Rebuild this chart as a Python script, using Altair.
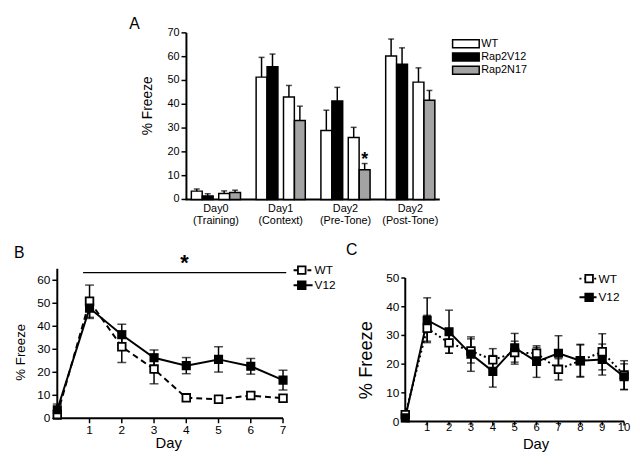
import altair as alt
import pandas as pd

FONT = "Liberation Sans"

# ---------------- Panel A data ----------------
a_categories = ["Day0 (Training)", "Day1 (Context)", "Day2 (Pre-Tone)", "Day2 (Post-Tone)"]
a_bar_genotypes = ["WT", "Rap2V12", "WT", "Rap2N17"]
a_bar_slots = ["s1", "s3", "s6", "s8"]
a_slot_domain = ["s0", "s1", "s2", "s3", "s4", "s5", "s6", "s7", "s8", "s9"]
a_mean_day0 = [3.5, 1.5, 2.5, 2.9]
a_mean_day1 = [51.4, 55.8, 43.1, 33.2]
a_mean_day2pre = [29.0, 41.4, 26.0, 12.5]
a_mean_day2post = [60.3, 56.8, 49.3, 41.7]
a_sem_day0 = [0.9, 0.9, 1.1, 1.0]
a_sem_day1 = [8.3, 5.3, 4.8, 6.0]
a_sem_day2pre = [8.5, 5.7, 4.3, 2.6]
a_sem_day2post = [7.1, 6.9, 6.0, 4.1]
a_legend = ["WT", "Rap2V12", "Rap2N17"]
a_colors = ["#ffffff", "#000000", "#a3a3a3"]
a_star = {"cat": "Day2 (Pre-Tone)", "slot": "s8", "y": 14.6}
a_y_ticks = [0, 10, 20, 30, 40, 50, 60, 70]
a_y_domain = [0, 70]

# ---------------- Panel B data ----------------
b_days = [0, 1, 2, 3, 4, 5, 6, 7]
b_wt_mean = [1.6, 50.9, 31.1, 21.4, 8.9, 8.3, 9.9, 8.7]
b_wt_sem = [2.0, 7.0, 6.8, 6.4, 1.5, 1.2, 1.5, 1.5]
b_v12_mean = [3.7, 47.9, 36.3, 26.3, 22.9, 25.6, 22.6, 16.6]
b_v12_sem = [2.5, 4.5, 4.6, 3.4, 3.5, 5.5, 3.4, 4.3]
b_sig_days = [0.8, 7.1]
b_sig_level = 63.3
b_star = {"day": 3.94, "y": 64.3}
b_x_ticks = [1, 2, 3, 4, 5, 6, 7]
b_y_ticks = [0, 10, 20, 30, 40, 50, 60]
b_x_domain = [0, 7]
b_y_domain = [0, 65]

# ---------------- Panel C data ----------------
c_days = [0, 1, 2, 3, 4, 5, 6, 7, 8, 9, 10]
c_wt_mean = [2.4, 32.5, 27.4, 24.6, 21.5, 24.0, 23.8, 18.2, 21.2, 24.3, 16.2]
c_wt_sem = [1.0, 4.5, 3.6, 4.2, 3.9, 4.0, 2.0, 3.7, 5.5, 6.3, 5.0]
c_v12_mean = [1.3, 35.3, 31.3, 23.5, 17.5, 25.7, 20.9, 23.8, 21.2, 21.6, 15.6]
c_v12_sem = [1.0, 7.8, 7.5, 6.0, 5.5, 5.0, 5.5, 6.1, 5.7, 5.4, 4.5]
c_x_ticks = [1, 2, 3, 4, 5, 6, 7, 8, 9, 10]
c_y_ticks = [0, 10, 20, 30, 40, 50]
c_x_domain = [0, 10]
c_y_domain = [0, 50]

series_names = ["WT", "V12"]
series_fills = ["white", "black"]

# ---------------- tables ----------------
a_means = [a_mean_day0, a_mean_day1, a_mean_day2pre, a_mean_day2post]
a_sems = [a_sem_day0, a_sem_day1, a_sem_day2pre, a_sem_day2post]
rowsA = []
for ci, cat in enumerate(a_categories):
    for bi in range(4):
        rowsA.append(dict(cat=cat, slot=a_bar_slots[bi], geno=a_bar_genotypes[bi],
                          mean=a_means[ci][bi], upper=a_means[ci][bi] + a_sems[ci][bi]))
dfA = pd.DataFrame(rowsA)


def series_df(days, mean, sem):
    return pd.DataFrame({"day": days, "mean": mean,
                         "lo": [m - s for m, s in zip(mean, sem)],
                         "hi": [m + s for m, s in zip(mean, sem)]})


dfB_wt = series_df(b_days, b_wt_mean, b_wt_sem)
dfB_v12 = series_df(b_days, b_v12_mean, b_v12_sem)
dfC_wt = series_df(c_days, c_wt_mean, c_wt_sem)
dfC_v12 = series_df(c_days, c_v12_mean, c_v12_sem)
one = alt.Data(values=[{}])


def txt(text, x, y, size, angle=0, align="center", baseline="middle"):
    return alt.Chart(one).mark_text(text=text, fontSize=size, font=FONT, align=align,
                                    baseline=baseline, angle=angle, color="black").encode(
        x=alt.value(x), y=alt.value(y))


# ---------------- Panel A (sits in the right column, drawn leftwards) ----------------
xA = alt.Scale(domain=a_categories, range=[-222, 35], paddingInner=0.155, paddingOuter=0.033)
xoA = alt.Scale(domain=a_slot_domain, paddingInner=0, paddingOuter=0)
yA = alt.Scale(domain=a_y_domain, nice=False)

xenc = alt.X("cat:N", scale=xA, axis=None, sort=a_categories)
xoenc = alt.XOffset("slot:N", scale=xoA)
barsA = alt.Chart(dfA).mark_bar(width=11, stroke="black", strokeWidth=1.5).encode(
    x=xenc, xOffset=xoenc,
    y=alt.Y("mean:Q", scale=yA, axis=None),
    fill=alt.Fill("geno:N", scale=alt.Scale(domain=a_legend, range=a_colors), legend=None),
)
errA = alt.Chart(dfA).mark_rule(strokeWidth=1.5, color="black").encode(
    x=xenc, xOffset=xoenc, y=alt.Y("mean:Q", scale=yA, axis=None), y2="upper:Q")
capA = alt.Chart(dfA).mark_tick(orient="horizontal", size=6, thickness=1.5, color="black").encode(
    x=xenc, xOffset=xoenc, y=alt.Y("upper:Q", scale=yA, axis=None))
starA = alt.Chart(pd.DataFrame([a_star])).mark_text(
    text="*", fontSize=18, fontWeight="bold", font=FONT, baseline="alphabetic", color="black"
).encode(x=xenc, xOffset=xoenc, y=alt.Y("y:Q", scale=yA, axis=None))

# hand-drawn axes for A
dfAyt = pd.DataFrame({"v": a_y_ticks})
aY_line = alt.Chart(pd.DataFrame({"y0": [a_y_domain[0]], "y1": [a_y_domain[1]]})).mark_rule(
    strokeWidth=2, color="black").encode(x=alt.value(-222), y=alt.Y("y0:Q", scale=yA, axis=None),
                                         y2="y1:Q")
aY_ticks = alt.Chart(dfAyt).mark_rule(strokeWidth=1.5, color="black").encode(
    x=alt.value(-227), x2=alt.value(-222), y=alt.Y("v:Q", scale=yA, axis=None))
aY_labels = alt.Chart(dfAyt).mark_text(align="right", baseline="middle", fontSize=11, font=FONT,
                                       color="black").encode(
    x=alt.value(-229), y=alt.Y("v:Q", scale=yA, axis=None), text=alt.Text("v:Q", format="d"))
aX_line = alt.Chart(pd.DataFrame({"y0": [a_y_domain[0]]})).mark_rule(strokeWidth=2, color="black").encode(
    x=alt.value(-223), x2=alt.value(35), y=alt.Y("y0:Q", scale=yA, axis=None))
aX_labels = alt.Chart(pd.DataFrame({"cat": a_categories})).mark_text(
    align="center", baseline="top", fontSize=11, font=FONT, color="black", lineBreak=" ",
    lineHeight=12).encode(x=xenc, y=alt.value(173), text="cat:N")
aTitle = txt("% Freeze", -261, 74, 14, angle=270)

legA_layers = []
for i, (lab, col) in enumerate(zip(a_legend, a_colors)):
    d = alt.Data(values=[{"label": lab}])
    ly = 11 + 13.5 * i
    legA_layers.append(alt.Chart(d).mark_point(
        shape="M-1,-0.3H1V0.3H-1Z", size=729, filled=True, fill=col, stroke="black",
        strokeWidth=1.5, opacity=1).encode(x=alt.value(61.5), y=alt.value(ly)))
    legA_layers.append(alt.Chart(d).mark_text(
        align="left", baseline="middle", fontSize=11, font=FONT, color="black").encode(
        x=alt.value(77), y=alt.value(ly), text="label:N"))

panelA = alt.layer(aY_line, aY_ticks, aY_labels, aX_line, aX_labels, aTitle,
                   barsA, errA, capA, starA, *legA_layers).properties(width=222, height=169)

spacerA = txt("A", 73, -17, 16, align="left", baseline="top").properties(width=229, height=169)


# ---------------- line panels ----------------
def axes_layers(xsc, ysc, x_dom, y_dom, x_ticks, y_ticks, height, tlen, fs, xlab_y, xfs):
    dfx = pd.DataFrame({"v": x_ticks})
    dfy = pd.DataFrame({"v": y_ticks})
    dom = pd.DataFrame({"x0": [x_dom[0]], "x1": [x_dom[1]], "y0": [y_dom[0]], "y1": [y_dom[1]]})
    return [
        alt.Chart(dom).mark_rule(strokeWidth=2, color="black").encode(
            x=alt.X("x0:Q", scale=xsc, axis=None), y=alt.Y("y0:Q", scale=ysc, axis=None), y2="y1:Q"),
        alt.Chart(dom).mark_rule(strokeWidth=2, color="black").encode(
            x=alt.X("x0:Q", scale=xsc, axis=None), x2="x1:Q", y=alt.Y("y0:Q", scale=ysc, axis=None)),
        alt.Chart(dfy).mark_rule(strokeWidth=1.5, color="black").encode(
            x=alt.value(-tlen), x2=alt.value(0), y=alt.Y("v:Q", scale=ysc, axis=None)),
        alt.Chart(dfy).mark_text(align="right", baseline="middle", fontSize=fs, font=FONT,
                                 color="black").encode(
            x=alt.value(-tlen - 2), y=alt.Y("v:Q", scale=ysc, axis=None),
            text=alt.Text("v:Q", format="d")),
        alt.Chart(dfx).mark_rule(strokeWidth=1.5, color="black").encode(
            x=alt.X("v:Q", scale=xsc, axis=None), y=alt.value(height), y2=alt.value(height + tlen)),
        alt.Chart(dfx).mark_text(align="center", baseline="top", fontSize=xfs, font=FONT,
                                 color="black").encode(
            x=alt.X("v:Q", scale=xsc, axis=None), y=alt.value(xlab_y),
            text=alt.Text("v:Q", format="d")),
    ]


def line_layers(df_wt, df_v12, xsc, ysc, wt_dash, cap_size):
    layers = []
    for df in (df_wt, df_v12):
        layers.append(alt.Chart(df).mark_rule(strokeWidth=1.5, color="black").encode(
            x=alt.X("day:Q", scale=xsc, axis=None),
            y=alt.Y("lo:Q", scale=ysc, axis=None), y2="hi:Q"))
        for col in ("lo", "hi"):
            layers.append(alt.Chart(df).mark_tick(orient="horizontal", size=cap_size, thickness=1.5,
                                                  color="black").encode(
                x=alt.X("day:Q", scale=xsc, axis=None),
                y=alt.Y(f"{col}:Q", scale=ysc, axis=None)))
    layers.append(alt.Chart(df_wt).mark_line(strokeWidth=2, color="black", strokeDash=wt_dash).encode(
        x=alt.X("day:Q", scale=xsc, axis=None), y=alt.Y("mean:Q", scale=ysc, axis=None)))
    layers.append(alt.Chart(df_v12).mark_line(strokeWidth=2, color="black").encode(
        x=alt.X("day:Q", scale=xsc, axis=None), y=alt.Y("mean:Q", scale=ysc, axis=None)))
    layers.append(alt.Chart(df_wt).mark_point(shape="square", size=60, filled=True, fill="white",
                                              stroke="black", strokeWidth=1.8, opacity=1).encode(
        x=alt.X("day:Q", scale=xsc, axis=None), y=alt.Y("mean:Q", scale=ysc, axis=None)))
    layers.append(alt.Chart(df_v12).mark_point(shape="square", size=60, filled=True, fill="black",
                                               stroke="black", strokeWidth=1.5, opacity=1).encode(
        x=alt.X("day:Q", scale=xsc, axis=None), y=alt.Y("mean:Q", scale=ysc, axis=None)))
    return layers


def legend_layers(rows_y, x_line, x2_line, x_sym, x_text, wt_dash, font_size):
    layers = []
    for name, fill, ry in zip(series_names, series_fills, rows_y):
        d = alt.Data(values=[{"label": name}])
        dash = wt_dash if name == "WT" else [1, 0]
        layers.append(alt.Chart(d).mark_rule(strokeWidth=2, color="black", strokeDash=dash).encode(
            x=alt.value(x_line), x2=alt.value(x2_line), y=alt.value(ry)))
        layers.append(alt.Chart(d).mark_point(shape="square", size=60, filled=True, fill=fill,
                                              stroke="black", strokeWidth=1.8, opacity=1).encode(
            x=alt.value(x_sym), y=alt.value(ry)))
        layers.append(alt.Chart(d).mark_text(align="left", baseline="middle", fontSize=font_size,
                                             font=FONT, color="black").encode(
            x=alt.value(x_text), y=alt.value(ry), text="label:N"))
    return layers


# ---------------- Panel B ----------------
HB = 151.7
xB = alt.Scale(domain=b_x_domain, nice=False, zero=False)
yB = alt.Scale(domain=b_y_domain, nice=False)
sigB = alt.Chart(pd.DataFrame({"x": [b_sig_days[0]], "x2": [b_sig_days[1]], "y": [b_sig_level]})).mark_rule(
    strokeWidth=1.2, color="black").encode(
    x=alt.X("x:Q", scale=xB, axis=None), x2="x2:Q", y=alt.Y("y:Q", scale=yB, axis=None))
starB = alt.Chart(pd.DataFrame([b_star])).mark_text(
    text="*", fontSize=22, fontWeight="bold", font=FONT, baseline="alphabetic", color="black").encode(
    x=alt.X("day:Q", scale=xB, axis=None), y=alt.Y("y:Q", scale=yB, axis=None))
panelB = alt.layer(
    *axes_layers(xB, yB, b_x_domain, b_y_domain, b_x_ticks, b_y_ticks, HB, 5, 12, HB + 7, 12),
    txt("Day", 113, HB + 30, 15, baseline="alphabetic"),
    txt("% Freeze", -37, 84.7, 13.5, angle=270),
    *line_layers(dfB_wt, dfB_v12, xB, yB, [6, 4], 9), sigB, starB,
    txt("B", -44, -15.8, 16, align="left"),
    *legend_layers([1.4, 16.7], 239.7, 259, 248, 261, [4, 3], 12)
).properties(width=229, height=HB)

# ---------------- Panel C ----------------
HC = 155
xC = alt.Scale(domain=c_x_domain, nice=False, zero=False)
yC = alt.Scale(domain=c_y_domain, range=[HC, 9.4], nice=False)
panelC = alt.layer(
    *axes_layers(xC, yC, c_x_domain, c_y_domain, c_x_ticks, c_y_ticks, HC, 4, 12, HC + 1, 11.5),
    txt("Day", 132.7, HC + 27.5, 15, baseline="alphabetic"),
    txt("% Freeze", -40, 92.7, 18.5, angle=270),
    *line_layers(dfC_wt, dfC_v12, xC, yC, [2, 3], 8),
    txt("C", -60, -19.3, 16, align="left"),
    *legend_layers([10, 29], 176.7, 194, 186.5, 196, [2, 3], 12)
).properties(width=222, height=HC)

chart = alt.concat(spacerA, panelA, panelB, panelC, columns=2).properties(
    spacing={"row": 70.3, "column": 124}, bounds="flush", background="white",
    padding={"left": 5, "top": 5, "right": 0, "bottom": 0}
).configure_view(stroke=None)

chart.save("out.html", embed_options={"renderer": "svg", "actions": False})
